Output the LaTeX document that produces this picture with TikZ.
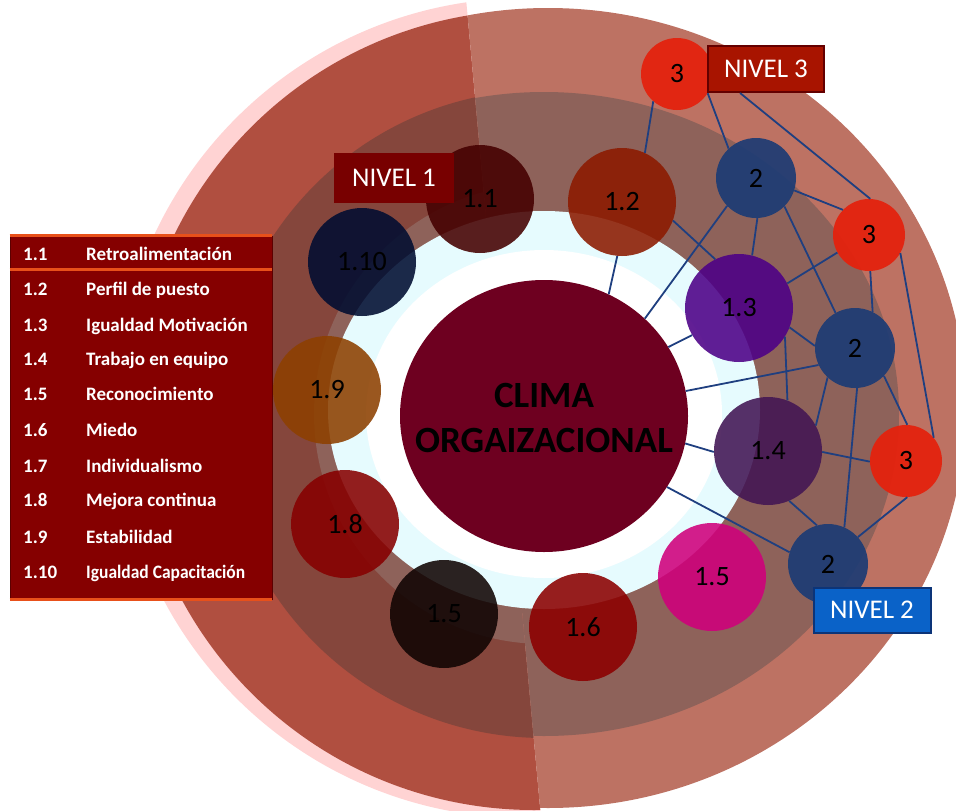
\documentclass[tikz,border=0pt]{standalone}
\usepackage{fontspec}
\setmainfont{Carlito}
\usetikzlibrary{shapes.geometric,calc}
\definecolor{ringpink}{HTML}{FFD3D3}
\definecolor{ringlight}{HTML}{BD7263}
\definecolor{ringdark}{HTML}{B04F40}
\definecolor{bandlight}{HTML}{8E625A}
\definecolor{banddark}{HTML}{85463C}
\definecolor{haze}{HTML}{E6FBFE}
\definecolor{core}{HTML}{6E0020}
\definecolor{linkblue}{HTML}{1F3F80}
\definecolor{legendred}{HTML}{850000}
\definecolor{legendline}{HTML}{E8501A}
\definecolor{cA}{RGB}{69,0,0}
\definecolor{cB}{RGB}{140,26,0}
\definecolor{cC}{RGB}{77,0,135}
\definecolor{cD}{RGB}{66,21,84}
\definecolor{cE}{RGB}{208,0,124}
\definecolor{cF}{RGB}{140,0,0}
\definecolor{cG}{RGB}{16,4,3}
\definecolor{cH}{RGB}{135,0,0}
\definecolor{cI}{RGB}{141,64,0}
\definecolor{cJ}{RGB}{0,13,49}
\definecolor{lvtwo}{HTML}{1E3C74}
\definecolor{lvthree}{HTML}{E3230F}
\definecolor{tagone}{HTML}{780000}
\definecolor{tagthree}{HTML}{A81400}
\definecolor{tagthreeedge}{HTML}{640000}
\definecolor{tagtwo}{HTML}{0A62C8}
\definecolor{tagtwoedge}{HTML}{0C3478}
\begin{document}
\begin{tikzpicture}[x=1pt,y=-1pt,
  lvlone/.style={circle,minimum size=108pt,inner sep=0pt,fill opacity=0.88,text opacity=1,
    font=\fontsize{28}{28}\selectfont},
  lvltwo/.style={circle,minimum size=80pt,inner sep=0pt,fill=lvtwo,fill opacity=0.93,text opacity=1,
    font=\fontsize{28}{28}\selectfont},
  lvlthree/.style={circle,minimum size=72pt,inner sep=0pt,fill=lvthree,fill opacity=0.96,text opacity=1,
    font=\fontsize{28}{28}\selectfont},
  link/.style={draw=linkblue,line width=1.8pt},
  tag/.style={rectangle,inner sep=0pt,text=white,font=\fontsize{27}{27}\selectfont},
  legnum/.style={anchor=base west,inner sep=0pt,text=white,font=\bfseries\fontsize{19}{19}\selectfont},
  legtxt/.style={anchor=base west,inner sep=0pt,text=white,font=\bfseries\fontsize{19}{19}\selectfont}
]
\useasboundingbox (0,0) rectangle (956,811);
\clip (0,0) rectangle (956,811);

% left half of the rings
\begin{scope}
  \clip (-20,-20) -- (464.3,-20) -- (542.1,830) -- (-20,830) -- cycle;
  \fill[ringpink] (526,408) circle[radius=410pt];
  \fill[ringdark] (534,410) circle[radius=400pt];
  \fill[banddark] (544,414) circle[radius=324pt];
  \fill[bandlight] (544,414) circle[radius=230pt];
\end{scope}
% right half of the rings
\begin{scope}
  \clip (464.3,-20) -- (980,-20) -- (980,830) -- (542.1,830) -- cycle;
  \fill[ringlight] (548,408) ellipse[x radius=418pt,y radius=400pt];
  \fill[bandlight] (544,414) ellipse[x radius=355pt,y radius=322pt];
\end{scope}
% inner glow and white ring
\fill[haze] (544,410) ellipse[x radius=216pt,y radius=199pt];
\fill[white] (544,414) ellipse[x radius=178pt,y radius=164pt];

% legend
\node[rectangle,fill=legendred,draw=legendred!70!black,line width=0.6pt,
      minimum width=262pt,minimum height=363pt,inner sep=0pt] (legend) at (141,417.5) {};
\draw[legendline,line width=2.5pt] (legend.north west) -- (legend.north east);
\draw[legendline,line width=2.5pt] ($(legend.north west)+(0,34)$) -- ($(legend.north east)+(0,34)$);
\draw[legendline,line width=2.5pt] (legend.south west) -- (legend.south east);
\node[legnum] (k1) at (23,260) {1.1};   \node[legtxt] (t1) at (86,260) {Retroalimentación};
\node[legnum] (k2) at (23,295) {1.2};   \node[legtxt] (t2) at (86,295) {Perfil de puesto};
\node[legnum] (k3) at (23,331) {1.3};   \node[legtxt] (t3) at (86,331) {Igualdad Motivación};
\node[legnum] (k4) at (23,365) {1.4};   \node[legtxt] (t4) at (86,365) {Trabajo en equipo};
\node[legnum] (k5) at (23,400) {1.5};   \node[legtxt] (t5) at (86,400) {Reconocimiento};
\node[legnum] (k6) at (23,436) {1.6};   \node[legtxt] (t6) at (86,436) {Miedo};
\node[legnum] (k7) at (23,472) {1.7};   \node[legtxt] (t7) at (86,472) {Individualismo};
\node[legnum] (k8) at (23,506) {1.8};   \node[legtxt] (t8) at (86,506) {Mejora continua};
\node[legnum] (k9) at (23,543) {1.9};   \node[legtxt] (t9) at (86,543) {Estabilidad};
\node[legnum] (k10) at (23,578) {1.10};
\node[legtxt] (t10) at (86,578) {\scalebox{0.92}[1]{Igualdad Capacitación}};

% central node and its caption
\node[ellipse,minimum width=288pt,minimum height=272pt,inner sep=0pt,fill=core] (core) at (544,416) {};
\node[align=center,inner sep=0pt,font=\bfseries\fontsize{37}{45}\selectfont] (coretext) at (544,418) {CLIMA\\ORGAIZACIONAL};

% level 1 circles
\node[lvlone,fill=cA] (n11) at (480,199) {1.1};
\node[lvlone,fill=cB] (n12) at (622,202) {1.2};
\node[lvlone,fill=cC] (n13) at (739,308) {1.3};
\node[lvlone,fill=cD] (n14) at (768,451) {1.4};
\node[lvlone,fill=cE] (n15) at (712,577) {1.5};
\node[lvlone,fill=cF] (n16) at (583,627) {1.6};
\node[lvlone,fill=cG] (n17) at (444,614) {1.5};
\node[lvlone,fill=cH] (n18) at (345,524) {1.8};
\node[lvlone,fill=cI] (n19) at (327,390) {1.9};
\node[lvlone,fill=cJ] (n110) at (362,262) {1.10};

% level 1 tag, lying over circle 1.1
\node[tag,fill=tagone,minimum width=120pt,minimum height=50pt] (lab1) at (394,178) {NIVEL 1};

% level 2 circles
\node[lvltwo] (n2a) at (756,178) {2};
\node[lvltwo] (n2b) at (855,348) {2};
\node[lvltwo] (n2c) at (828,564) {2};

% level 3 circles
\node[lvlthree] (n3a) at (677,74) {3};
\node[lvlthree] (n3b) at (869,235) {3};
\node[lvlthree] (n3c) at (906,461) {3};

% connectors to the centre
\draw[link] (n12.265) -- (core.62);
\draw[link] (n2a.224) -- (core.44);
\draw[link] (n13.210) -- (core.29);
\draw[link] (n2b.205) -- (core.10);
\draw[link] (n14.181) -- (core.-11);
\draw[link] (n2c.163) -- (core.-30);
% connectors between outer circles
\draw[link] (n3a.229) -- (n12.65);
\draw[link] (n3a.-32) -- (n2a.133);
\draw[link] (n2a.-18) -- (n3b.136);
\draw[link] (n2a.-88) -- (n13.76);
\draw[link] (n2a.-45) -- (n2b.119);
\draw[link] (n12.-20) -- (n13.116);
\draw[link] (n3b.209) -- (n13.27);
\draw[link] (n3b.-88) -- (n2b.64);
\draw[link] (n3b.-30) -- (n3c.40);
\draw[link] (n13.-21) -- (n2b.177);
\draw[link] (n13.-32) -- (n14.69);
\draw[link] (n2b.227) -- (n14.28);
\draw[link] (n2b.-87) -- (n2c.66);
\draw[link] (n2b.-44) -- (n3c.88);
\draw[link] (n14.-1) -- (n3c.181);
\draw[link] (n14.-67) -- (n2c.106);
\draw[link] (n3c.-88) -- (n2c.42);

% level tags
\node[tag,fill=tagthree,draw=tagthreeedge,line width=2pt,minimum width=116pt,minimum height=46pt] (lab3) at (766,69) {NIVEL 3};
\node[tag,fill=tagtwo,draw=tagtwoedge,line width=2pt,minimum width=117pt,minimum height=45pt] (lab2) at (872,610) {NIVEL 2};
\draw[link] ($(lab3.south west)!0.28!(lab3.south east)$) -- (n3b.88);
\end{tikzpicture}
\end{document}
